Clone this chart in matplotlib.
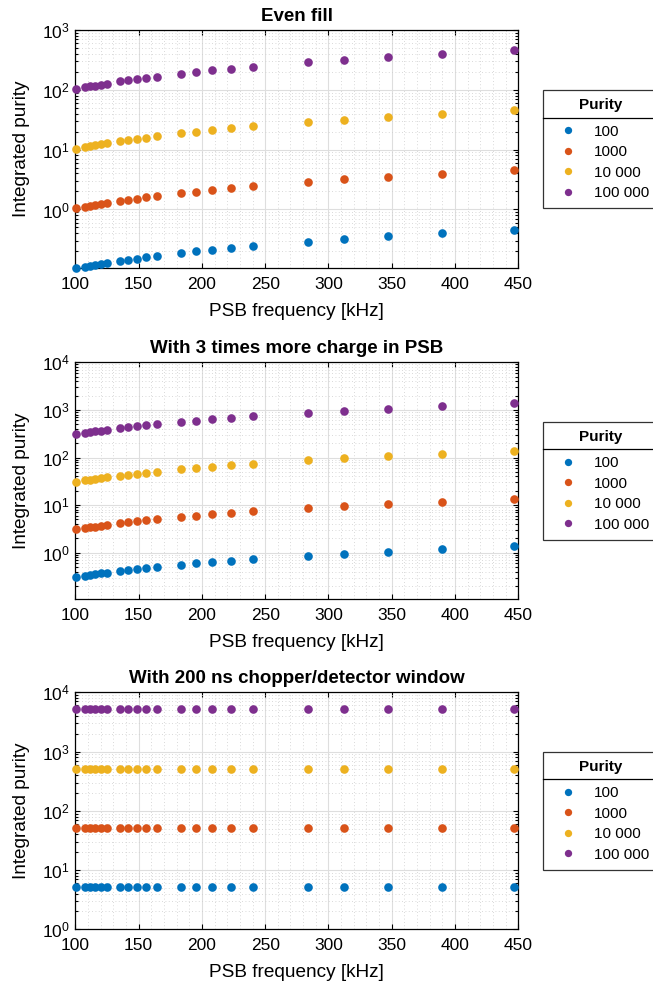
import numpy as np
import matplotlib
matplotlib.use("Agg")
import matplotlib.pyplot as plt
from matplotlib.ticker import MultipleLocator, LogLocator, NullFormatter
from matplotlib.lines import Line2D

plt.rcParams['font.family'] = ['Liberation Sans', 'DejaVu Sans']
plt.rcParams['mathtext.fontset'] = 'custom'
plt.rcParams['mathtext.rm'] = 'Liberation Sans'

# PSB frequency [kHz]
freq = [100.6, 107.6, 111.4, 115.6, 120.0, 124.8, 135.7, 141.8, 148.6, 156.0, 164.2,
        183.5, 195.0, 208.0, 223.0, 240.0, 284.0, 312.0, 347.0, 390.0, 446.5]

# Even fill
even_100 = [0.104, 0.110, 0.114, 0.118, 0.122, 0.127, 0.138, 0.145, 0.151, 0.159, 0.167,
            0.187, 0.199, 0.212, 0.227, 0.245, 0.290, 0.318, 0.354, 0.398, 0.456]
even_1000 = [1.04, 1.10, 1.14, 1.18, 1.22, 1.27, 1.38, 1.45, 1.51, 1.59, 1.67,
             1.87, 1.99, 2.12, 2.27, 2.45, 2.90, 3.18, 3.54, 3.98, 4.56]
even_10000 = [10.4, 11.0, 11.4, 11.8, 12.2, 12.7, 13.8, 14.5, 15.1, 15.9, 16.7,
              18.7, 19.9, 21.2, 22.7, 24.5, 29.0, 31.8, 35.4, 39.8, 45.6]
even_100000 = [104, 110, 114, 118, 122, 127, 138, 145, 151, 159, 167,
               187, 199, 212, 227, 245, 290, 318, 354, 398, 456]

# 3 times more charge in PSB
charge_100 = [0.312, 0.330, 0.342, 0.354, 0.366, 0.381, 0.414, 0.435, 0.453, 0.477, 0.501,
              0.561, 0.597, 0.636, 0.681, 0.735, 0.870, 0.954, 1.06, 1.19, 1.37]
charge_1000 = [3.12, 3.30, 3.42, 3.54, 3.66, 3.81, 4.14, 4.35, 4.53, 4.77, 5.01,
               5.61, 5.97, 6.36, 6.81, 7.35, 8.70, 9.54, 10.6, 11.9, 13.7]
charge_10000 = [31.2, 33.0, 34.2, 35.4, 36.6, 38.1, 41.4, 43.5, 45.3, 47.7, 50.1,
                56.1, 59.7, 63.6, 68.1, 73.5, 87.0, 95.4, 106, 119, 137]
charge_100000 = [312, 330, 342, 354, 366, 381, 414, 435, 453, 477, 501,
                 561, 597, 636, 681, 735, 870, 954, 1060, 1190, 1370]

# 200 ns chopper/detector window
window_100 = [5.1, 5.1, 5.1, 5.1, 5.1, 5.1, 5.1, 5.1, 5.1, 5.1, 5.1,
              5.1, 5.1, 5.1, 5.1, 5.1, 5.1, 5.1, 5.1, 5.1, 5.1]
window_1000 = [51, 51, 51, 51, 51, 51, 51, 51, 51, 51, 51,
               51, 51, 51, 51, 51, 51, 51, 51, 51, 51]
window_10000 = [512, 512, 512, 512, 512, 512, 512, 512, 512, 512, 512,
                512, 512, 512, 512, 512, 512, 512, 512, 512, 512]
window_100000 = [5150, 5150, 5150, 5150, 5150, 5150, 5150, 5150, 5150, 5150, 5150,
                 5150, 5150, 5150, 5150, 5150, 5150, 5150, 5150, 5150, 5150]

purity_labels = ['100', '1000', '10 000', '100 000']
titles = ['Even fill', 'With 3 times more charge in PSB', 'With 200 ns chopper/detector window']
colors = ['#0072BD', '#D95319', '#EDB120', '#7E2F8E']

panels = [
    (titles[0], [even_100, even_1000, even_10000, even_100000], (0.104, 1000)),
    (titles[1], [charge_100, charge_1000, charge_10000, charge_100000], (0.105, 1e4)),
    (titles[2], [window_100, window_1000, window_10000, window_100000], (1, 1e4)),
]

W, H = 653, 990
fig = plt.figure(figsize=(W / 100, H / 100), dpi=100)

# axes boxes in pixels: (top, bottom)
boxes = [(30, 268.3), (362.3, 599.3), (692.3, 929.3)]
left_px, right_px = 75.3, 518.3

legends = []
for (title, series, ylim), (top, bot) in zip(panels, boxes):
    ax = fig.add_axes([left_px / W, 1 - bot / H, (right_px - left_px) / W, (bot - top) / H])
    for vals, c, lab in zip(series, colors, purity_labels):
        ax.plot(freq, vals, 'o', color=c, ms=6.2, mec='none', label=lab, clip_on=False, zorder=3)
    ax.set_yscale('log')
    ax.set_xlim(100, 450)
    ax.set_ylim(*ylim)
    ax.xaxis.set_major_locator(MultipleLocator(50))
    ax.xaxis.set_minor_locator(MultipleLocator(10))
    ax.yaxis.set_major_locator(LogLocator(base=10, numticks=10))
    ax.yaxis.set_minor_locator(LogLocator(base=10, subs=np.arange(2, 10), numticks=100))
    ax.yaxis.set_minor_formatter(NullFormatter())

    ax.grid(True, which='major', color='#dedede', lw=0.8, zorder=0)
    ax.grid(True, which='minor', color='#cdcdcd', lw=0.6, ls=(0, (1, 3)), zorder=0)
    ax.set_axisbelow(True)

    ax.tick_params(which='both', direction='in', top=True, right=True, labelsize=12.5,
                   colors='black', width=0.8)
    ax.tick_params(which='major', length=3.5)
    ax.tick_params(axis='x', which='major', pad=6.5)
    ax.tick_params(axis='y', which='major', pad=4)
    ax.tick_params(axis='y', which='minor', length=2)
    ax.tick_params(axis='x', which='minor', length=0)
    for s in ax.spines.values():
        s.set_linewidth(0.9)

    ax.set_title(title, fontsize=13.5, fontweight='bold', pad=6.5)
    ax.set_xlabel('PSB frequency [kHz]', fontsize=13.7, labelpad=8)
    ax.set_ylabel('Integrated purity', fontsize=13.7, labelpad=8.5)

    cy = 1 - (top + bot) / 2 / H
    leg = ax.legend(loc='center left', bbox_to_anchor=(543.3 / W, cy), bbox_transform=fig.transFigure,
                    title='Purity', title_fontproperties={'weight': 'bold', 'size': 11},
                    fontsize=11, frameon=True, fancybox=False, edgecolor='black',
                    borderpad=0.55, handlelength=2.1, handletextpad=0.68, labelspacing=0.42,
                    markerscale=0.85, borderaxespad=0)
    leg._legend_box.sep = 9
    leg.get_frame().set_linewidth(0.9)
    legends.append(leg)

# separator line under each legend title
fig.canvas.draw()
for leg in legends:
    bb = leg.get_window_extent()
    tb = leg.get_title().get_window_extent()
    t0 = leg.get_texts()[0].get_window_extent()
    y = (tb.y0 + t0.y1) / 2 + 1
    fig.add_artist(Line2D([bb.x0 / W, bb.x1 / W], [y / H, y / H], transform=fig.transFigure,
                          color='black', lw=0.9))

fig.savefig('out.png', dpi=100)
